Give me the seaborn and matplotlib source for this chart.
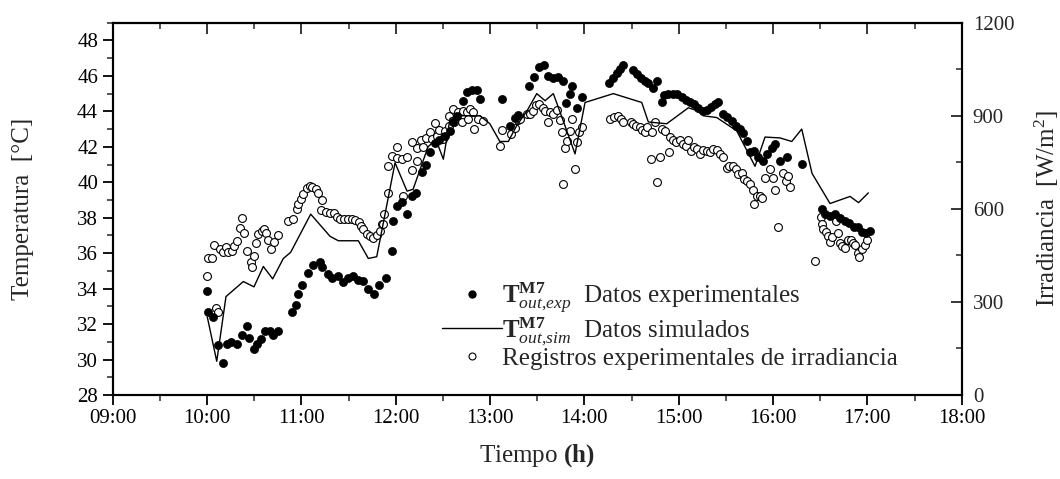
import numpy as np
import pandas as pd
import matplotlib
matplotlib.use("Agg")
import matplotlib.pyplot as plt
import seaborn as sns
from matplotlib.ticker import MultipleLocator, FuncFormatter
from matplotlib.lines import Line2D

# ---------------- data (time in decimal hours) ----------------
t_exp = [10.003, 10.013, 10.066, 10.119, 10.166, 10.209, 10.254, 10.315, 10.368, 10.421,
         10.445, 10.501, 10.527, 10.572, 10.615, 10.668, 10.703, 10.756, 10.898, 10.943,
         10.968, 11.010, 11.067, 11.127, 11.198, 11.222, 11.279, 11.328, 11.385, 11.445,
         11.491, 11.551, 11.604, 11.657, 11.710, 11.770, 11.823, 11.894, 11.958, 11.968,
         12.011, 12.064, 12.123, 12.170, 12.215, 12.276, 12.321, 12.364, 12.417, 12.462,
         12.523, 12.576, 12.604, 12.653, 12.717, 12.759, 12.806, 12.865, 12.894, 13.124,
         13.212, 13.265, 13.300, 13.416, 13.466, 13.522, 13.572, 13.618, 13.671, 13.724,
         13.770, 13.802, 13.848, 13.866, 13.925, 13.972, 14.264, 14.307, 14.343, 14.378,
         14.413, 14.513, 14.555, 14.597, 14.643, 14.678, 14.725, 14.773, 14.820, 14.844,
         14.890, 14.943, 14.985, 15.032, 15.078, 15.120, 15.162, 15.208, 15.255, 15.297,
         15.339, 15.385, 15.420, 15.473, 15.515, 15.562, 15.608, 15.650, 15.679, 15.721,
         15.756, 15.802, 15.844, 15.891, 15.933, 15.986, 16.021, 16.074, 16.151, 16.304,
         16.516, 16.551, 16.604, 16.657, 16.710, 16.763, 16.809, 16.862, 16.904, 16.940,
         16.986, 17.028]
T_exp = [33.84, 32.7, 32.4, 30.8, 29.8, 30.85, 31.0, 30.85, 31.4, 31.9,
         31.2, 30.6, 30.85, 31.15, 31.6, 31.6, 31.4, 31.6, 32.7, 33.1,
         33.7, 34.2, 34.9, 35.35, 35.5, 35.2, 34.8, 34.6, 34.7, 34.4,
         34.6, 34.7, 34.5, 34.45, 34.0, 33.7, 34.2, 34.6, 36.1, 37.8,
         38.65, 38.9, 38.2, 39.2, 39.4, 40.6, 41.0, 41.7, 42.2, 42.4,
         42.6, 42.9, 43.4, 43.75, 44.6, 45.1, 45.2, 45.2, 44.7, 44.7,
         43.2, 43.65, 43.8, 45.45, 45.95, 46.5, 46.6, 46.0, 45.9, 45.95,
         45.7, 44.45, 45.0, 45.45, 44.2, 44.8, 45.6, 45.9, 46.15, 46.4,
         46.6, 46.35, 46.1, 45.9, 45.7, 45.6, 45.3, 45.7, 44.5, 44.9,
         45.0, 45.0, 45.0, 44.8, 44.65, 44.5, 44.4, 44.2, 44.0, 44.1,
         44.25, 44.4, 44.5, 43.85, 43.7, 43.45, 43.2, 43.0, 42.8, 42.3,
         41.7, 41.75, 41.4, 41.2, 41.6, 41.95, 42.15, 41.2, 41.4, 41.05,
         38.5, 38.2, 38.1, 38.2, 38.0, 37.8, 37.7, 37.5, 37.45, 37.2,
         37.15, 37.25]

t_sim = [10.003, 10.103, 10.201, 10.385, 10.498, 10.597, 10.696, 10.809, 10.887, 11.099,
         11.304, 11.392, 11.604, 11.710, 11.799, 11.993, 12.120, 12.184, 12.343, 12.427,
         12.505, 12.576, 12.647, 12.894, 12.998, 13.104, 13.194, 13.283, 13.389, 13.495,
         13.583, 13.671, 13.763, 13.901, 14.007, 14.307, 14.608, 14.678, 14.873, 15.102,
         15.191, 15.261, 15.403, 15.615, 15.809, 15.915, 16.074, 16.198, 16.304, 16.413,
         16.604, 16.710, 16.816, 16.906, 17.010]
T_sim = [32.4, 29.9, 33.55, 34.4, 34.1, 35.25, 34.55, 35.7, 36.05, 38.2,
         36.95, 36.7, 36.7, 35.7, 35.8, 41.1, 39.5, 39.6, 42.0, 42.4,
         41.3, 43.6, 43.75, 43.75, 43.3, 42.3, 42.3, 43.2, 44.0, 45.0,
         44.6, 45.0, 43.65, 41.6, 44.5, 45.0, 44.5, 43.4, 43.3, 44.2,
         44.05, 43.75, 43.65, 42.9, 40.9, 42.55, 42.5, 42.3, 43.0, 40.5,
         38.8, 39.0, 39.2, 38.85, 39.4]

t_irr = [10.003, 10.013, 10.050, 10.074, 10.092, 10.119, 10.137, 10.172, 10.198, 10.225,
         10.262, 10.289, 10.315, 10.350, 10.368, 10.395, 10.421, 10.466, 10.501, 10.477,
         10.516, 10.544, 10.580, 10.607, 10.622, 10.650, 10.678, 10.713, 10.749, 10.862,
         10.915, 10.951, 10.968, 10.996, 11.021, 11.057, 11.092, 11.116, 11.152, 11.173,
         11.216, 11.203, 11.258, 11.304, 11.349, 11.375, 11.410, 11.455, 11.498, 11.534,
         11.569, 11.611, 11.627, 11.657, 11.693, 11.728, 11.763, 11.799, 11.834, 11.858,
         11.879, 11.869, 11.915, 11.922, 11.958, 12.011, 12.017, 12.064, 12.074, 12.117,
         12.170, 12.172, 12.223, 12.225, 12.265, 12.293, 12.321, 12.364, 12.382, 12.417,
         12.441, 12.462, 12.498, 12.523, 12.568, 12.570, 12.611, 12.619, 12.664, 12.700,
         12.717, 12.753, 12.770, 12.788, 12.823, 12.825, 12.876, 12.922, 13.106, 13.124,
         13.219, 13.265, 13.300, 13.318, 13.389, 13.424, 13.452, 13.487, 13.522, 13.558,
         13.583, 13.618, 13.636, 13.671, 13.707, 13.742, 13.760, 13.770, 13.795, 13.813,
         13.848, 13.866, 13.901, 13.919, 13.946, 13.972, 14.272, 14.314, 14.360, 14.385,
         14.413, 14.491, 14.519, 14.548, 14.590, 14.608, 14.643, 14.667, 14.703, 14.714,
         14.749, 14.773, 14.802, 14.820, 14.855, 14.901, 14.908, 14.943, 14.972, 15.014,
         15.049, 15.078, 15.102, 15.127, 15.162, 15.197, 15.226, 15.254, 15.297, 15.332,
         15.367, 15.403, 15.438, 15.473, 15.509, 15.536, 15.573, 15.608, 15.632, 15.668,
         15.693, 15.727, 15.756, 15.785, 15.802, 15.827, 15.862, 15.880, 15.915, 15.968,
         16.003, 16.021, 16.050, 16.109, 16.138, 16.162, 16.180, 16.445, 16.506, 16.516,
         16.533, 16.561, 16.586, 16.604, 16.622, 16.668, 16.692, 16.710, 16.728, 16.763,
         16.798, 16.823, 16.844, 16.869, 16.904, 16.915, 16.940, 16.975, 16.999]
irr = [382, 442, 440, 485, 280, 269, 469, 461, 476, 461,
       463, 480, 496, 539, 569, 523, 463, 429, 447, 411,
       490, 519, 528, 534, 523, 498, 472, 493, 517, 560,
       566, 598, 615, 631, 647, 668, 674, 671, 663, 652,
       628, 595, 591, 587, 587, 573, 566, 566, 566, 566,
       563, 558, 544, 534, 519, 512, 506, 515, 528, 552,
       582, 550, 652, 739, 771, 798, 764, 760, 642, 766,
       814, 725, 755, 796, 822, 798, 828, 847, 825, 876,
       836, 854, 825, 852, 868, 900, 922, 879, 911, 879,
       917, 911, 890, 922, 911, 858, 890, 882, 804, 854,
       841, 861, 885, 890, 906, 906, 917, 936, 939, 926,
       917, 879, 911, 906, 919, 885, 847, 679, 796, 820,
       852, 890, 728, 814, 847, 865, 890, 896, 900, 890,
       879, 879, 874, 868, 863, 854, 847, 865, 760, 847,
       879, 685, 766, 858, 852, 782, 833, 822, 814, 822,
       809, 804, 822, 785, 800, 793, 777, 790, 785, 782,
       793, 790, 777, 766, 733, 739, 739, 728, 712, 717,
       696, 690, 679, 660, 617, 641, 641, 634, 699, 728,
       701, 660, 540, 714, 690, 706, 671, 431, 573, 552,
       534, 526, 512, 493, 509, 561, 523, 490, 480, 474,
       498, 498, 490, 483, 458, 444, 469, 485, 501]

x_ticks = [9, 10, 11, 12, 13, 14, 15, 16, 17, 18]
y_ticks = [28, 30, 32, 34, 36, 38, 40, 42, 44, 46, 48]
y2_ticks = [0, 300, 600, 900, 1200]

lbl_exp = r"$\mathbf{T}^{\mathbf{M7}}_{out{,}exp}$  Datos experimentales"
lbl_sim = r"$\mathbf{T}^{\mathbf{M7}}_{out{,}sim}$  Datos simulados"
lbl_irr = "Registros experimentales de irradiancia"

df_exp = pd.DataFrame({"t": t_exp, "T": T_exp})
df_sim = pd.DataFrame({"t": t_sim, "T": T_sim})
df_irr = pd.DataFrame({"t": t_irr, "G": irr})

# ---------------- style ----------------
sns.set_style("ticks")
plt.rcParams["font.family"] = ["Liberation Serif", "DejaVu Serif"]
plt.rcParams["mathtext.fontset"] = "custom"
plt.rcParams["mathtext.rm"] = "Liberation Serif"
plt.rcParams["mathtext.it"] = "Liberation Serif:italic"
plt.rcParams["mathtext.bf"] = "Liberation Serif:bold"
plt.rcParams["axes.linewidth"] = 1.5

fig = plt.figure(figsize=(10.6, 4.79), dpi=100)
ax = fig.add_axes([0.1063, 0.1754, 0.8010, 0.7772])
ax2 = ax.twinx()

sns.scatterplot(data=df_irr, x="t", y="G", ax=ax2, marker="o", s=32,
                facecolor="white", edgecolor="black", linewidth=0.8, legend=False, zorder=2)
sns.lineplot(data=df_sim, x="t", y="T", ax=ax, color="black", linewidth=1.0,
             sort=False, estimator=None, legend=False)
sns.scatterplot(data=df_exp, x="t", y="T", ax=ax, marker="o", s=34,
                color="black", edgecolor="black", linewidth=0.5, legend=False)

ax.set_zorder(ax2.get_zorder() + 1)
ax.patch.set_visible(False)

ax.set_xlim(9, 18)
ax.set_ylim(28, 49)
ax2.set_ylim(0, 1200)

ax.set_xticks(x_ticks)
ax.xaxis.set_major_formatter(FuncFormatter(lambda v, p: f"{int(round(v)):02d}:00"))
ax.xaxis.set_minor_locator(MultipleLocator(0.5))
ax.set_yticks(y_ticks)
ax.yaxis.set_minor_locator(MultipleLocator(1))
ax2.set_yticks(y2_ticks)
ax2.yaxis.set_minor_locator(MultipleLocator(150))

ax.tick_params(axis="both", which="major", direction="out", length=7, width=1.3,
               labelsize=15, colors="black")
ax.tick_params(axis="both", which="minor", direction="out", length=4, width=1.1)
ax.tick_params(axis="x", pad=3)
ax2.tick_params(axis="y", which="major", direction="in", length=8, width=1.3, labelsize=15, pad=8)
ax2.tick_params(axis="y", which="minor", direction="in", length=4, width=1.1)

top = ax.secondary_xaxis("top")
top.set_xticks(x_ticks)
top.xaxis.set_minor_locator(MultipleLocator(0.5))
top.tick_params(axis="x", which="major", direction="in", length=8, width=1.3, labeltop=False)
top.tick_params(axis="x", which="minor", direction="in", length=4, width=1.1)
top.spines["top"].set_linewidth(1.5)

for a in (ax, ax2):
    for s in a.spines.values():
        s.set_color("black")
        s.set_linewidth(1.5)

ax.set_xlabel(r"Tiempo $\mathbf{(h)}$", fontsize=18, labelpad=10)
ax.set_ylabel("Temperatura  [°C]", fontsize=18, labelpad=31)
ax2.set_ylabel(r"Irradiancia  [W/m$^2$]", fontsize=18, labelpad=13)

handles = [
    Line2D([], [], marker="o", linestyle="none", color="black", markersize=5),
    Line2D([], [], color="black", linewidth=1.0),
    Line2D([], [], marker="o", linestyle="none", markerfacecolor="white",
           markeredgecolor="black", markersize=5, markeredgewidth=0.8),
]
leg = ax.legend(handles, [lbl_exp, lbl_sim, lbl_irr], loc="lower left",
                bbox_to_anchor=(0.376, 0.04), frameon=False, fontsize=18,
                handlelength=2.4, handletextpad=0.0, labelspacing=0.0,
                borderaxespad=0.0)

fig.savefig("out.png", dpi=100)
